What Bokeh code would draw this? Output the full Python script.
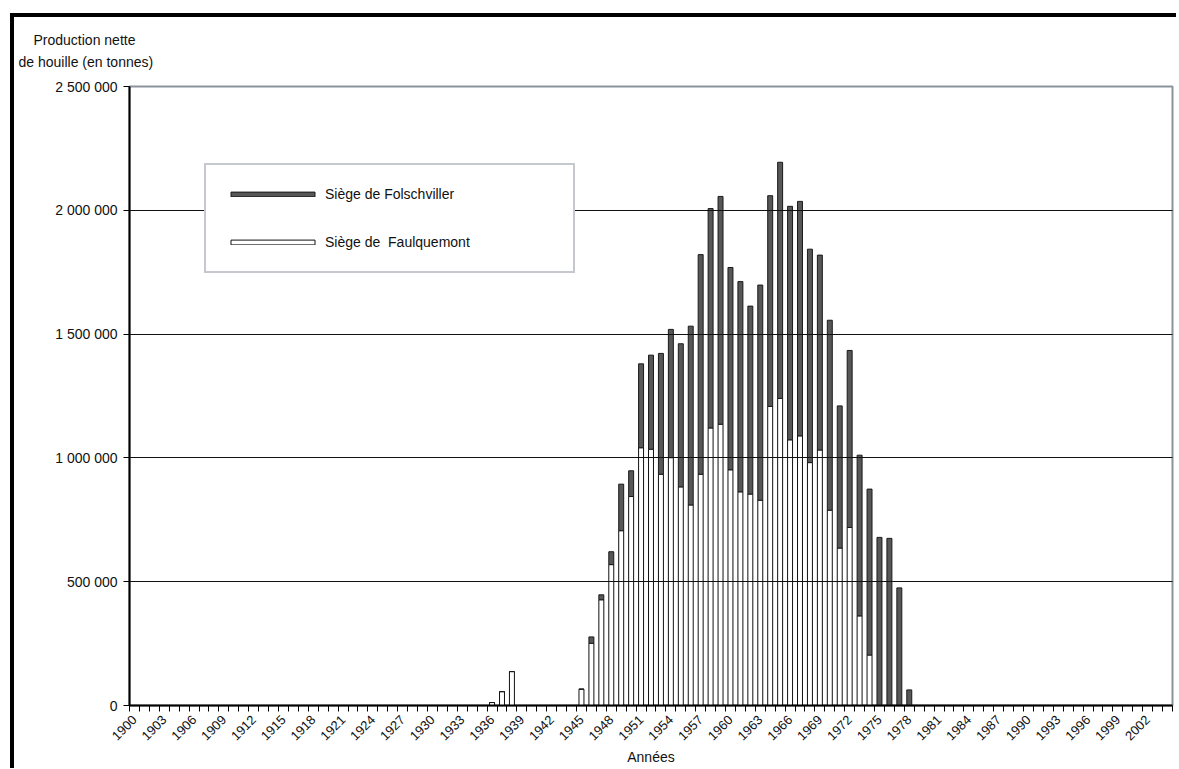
import math
from bokeh.plotting import figure
from bokeh.models import ColumnDataSource, Range1d, FixedTicker, Legend, LegendItem, Title
from bokeh.embed import file_html
from bokeh.resources import INLINE

# ---------------- data (tonnes) ----------------
years = [1936, 1937, 1938,
         1945, 1946, 1947, 1948, 1949, 1950, 1951, 1952, 1953, 1954,
         1955, 1956, 1957, 1958, 1959, 1960, 1961, 1962, 1963, 1964,
         1965, 1966, 1967, 1968, 1969, 1970, 1971, 1972, 1973, 1974,
         1975, 1976, 1977, 1978]
faulquemont = [12000, 56000, 137000,
               66000, 251000, 427000, 569000, 706000, 844000, 1041000, 1035000, 934000, 1001000,
               883000, 810000, 934000, 1121000, 1136000, 952000, 863000, 854000, 829000, 1208000,
               1240000, 1073000, 1089000, 981000, 1032000, 789000, 636000, 719000, 362000, 204000,
               0, 0, 0, 0]
folschviller = [0, 0, 0,
                0, 26000, 20000, 52000, 188000, 104000, 339000, 380000, 488000, 518000,
                578000, 722000, 887000, 886000, 920000, 817000, 849000, 759000, 869000, 851000,
                954000, 943000, 947000, 862000, 787000, 767000, 574000, 715000, 649000, 670000,
                679000, 675000, 475000, 63000]

series_names = ["Siège de Folschviller", "Siège de  Faulquemont"]
year_first, year_last = 1900, 2004
x_tick_years = list(range(1900, 2003, 3))
x_tick_labels = [str(y) for y in x_tick_years]
y_tick_values = [0, 500000, 1000000, 1500000, 2000000, 2500000]
y_tick_labels = ["0", "500 000", "1 000 000", "1 500 000", "2 000 000", "2 500 000"]
y_title = ["Production nette", "de houille (en tonnes)"]
x_title = "Années"

FONT = "Liberation Sans"
DARK = "#575757"
FRAME_GREY = "#8c949b"

source = ColumnDataSource(dict(year=years, faulquemont=faulquemont, folschviller=folschviller))

p = figure(width=1176, height=768, output_backend="svg", toolbar_location=None,
           x_range=Range1d(year_first - 0.5, year_last + 0.5),
           y_range=Range1d(y_tick_values[0], y_tick_values[-1]),
           min_border_left=129, min_border_right=4, min_border_top=86, min_border_bottom=63)
p.styles = {"box-shadow": "inset 10px 13px 0 0 white, inset 14px 17px 0 0 black"}
p.border_fill_color = None
p.background_fill_color = "white"
p.outline_line_color = FRAME_GREY
p.outline_line_width = 2

rs = p.vbar_stack(["faulquemont", "folschviller"], x="year", width=0.5, source=source,
                  fill_color=["white", DARK], line_color=["#111111", "#1a1a1a"], line_width=1)

# x axis
xa = p.xaxis[0]
xa.ticker = FixedTicker(ticks=x_tick_years,
                        minor_ticks=[y - 0.5 for y in range(year_first, year_last + 2)])
xa.major_label_overrides = dict(zip(x_tick_years, x_tick_labels))
xa.major_label_orientation = math.pi / 4
xa.major_tick_line_color = None
xa.major_tick_out = 0
xa.major_tick_in = 0
xa.minor_tick_line_color = "black"
xa.minor_tick_out = 6
xa.minor_tick_in = 0
xa.axis_line_color = "black"
xa.axis_line_width = 2
xa.major_label_standoff = 6
xa.major_label_text_font = FONT
xa.major_label_text_font_size = "13px"
xa.major_label_text_color = "#111111"
xa.axis_label = x_title
xa.axis_label_text_font = FONT
xa.axis_label_text_font_size = "14px"
xa.axis_label_text_font_style = "normal"
xa.axis_label_text_color = "#111111"
xa.axis_label_standoff = 2

# y axis
ya = p.yaxis[0]
ya.ticker = FixedTicker(ticks=y_tick_values)
ya.major_label_overrides = dict(zip(y_tick_values, y_tick_labels))
ya.minor_tick_line_color = None
ya.major_tick_out = 6
ya.major_tick_in = 0
ya.major_tick_line_color = "black"
ya.axis_line_color = "black"
ya.axis_line_width = 2
ya.major_label_standoff = 6
ya.major_label_text_font = FONT
ya.major_label_text_font_size = "14px"
ya.major_label_text_color = "#111111"

p.xgrid.grid_line_color = None
p.ygrid.ticker = FixedTicker(ticks=y_tick_values[1:-1])
p.ygrid.grid_line_color = "#111111"
p.ygrid.grid_line_width = 1
p.ygrid.level = "guide"

# y title: two lines above the axis (nearest line added first)
for line, off, so in zip(reversed(y_title), [-111, -96], [33, -25]):
    p.add_layout(Title(text=line, align="left", offset=off, standoff=so,
                       text_font=FONT, text_font_size="14px", text_font_style="normal",
                       text_color="#111111"), "above")

legend = Legend(items=[LegendItem(label=series_names[0], renderers=[rs[1]]),
                       LegendItem(label=series_names[1], renderers=[rs[0]])],
                location=(75, 432), margin=0, padding=14, spacing=18,
                glyph_width=105, glyph_height=6, label_height=30, label_width=234,
                label_standoff=0, border_line_color=FRAME_GREY, border_line_width=2,
                background_fill_color="white", background_fill_alpha=1.0,
                label_text_font=FONT, label_text_font_size="14px", label_text_color="#111111")
p.add_layout(legend)

open("out.html", "w").write(file_html(p, INLINE))
